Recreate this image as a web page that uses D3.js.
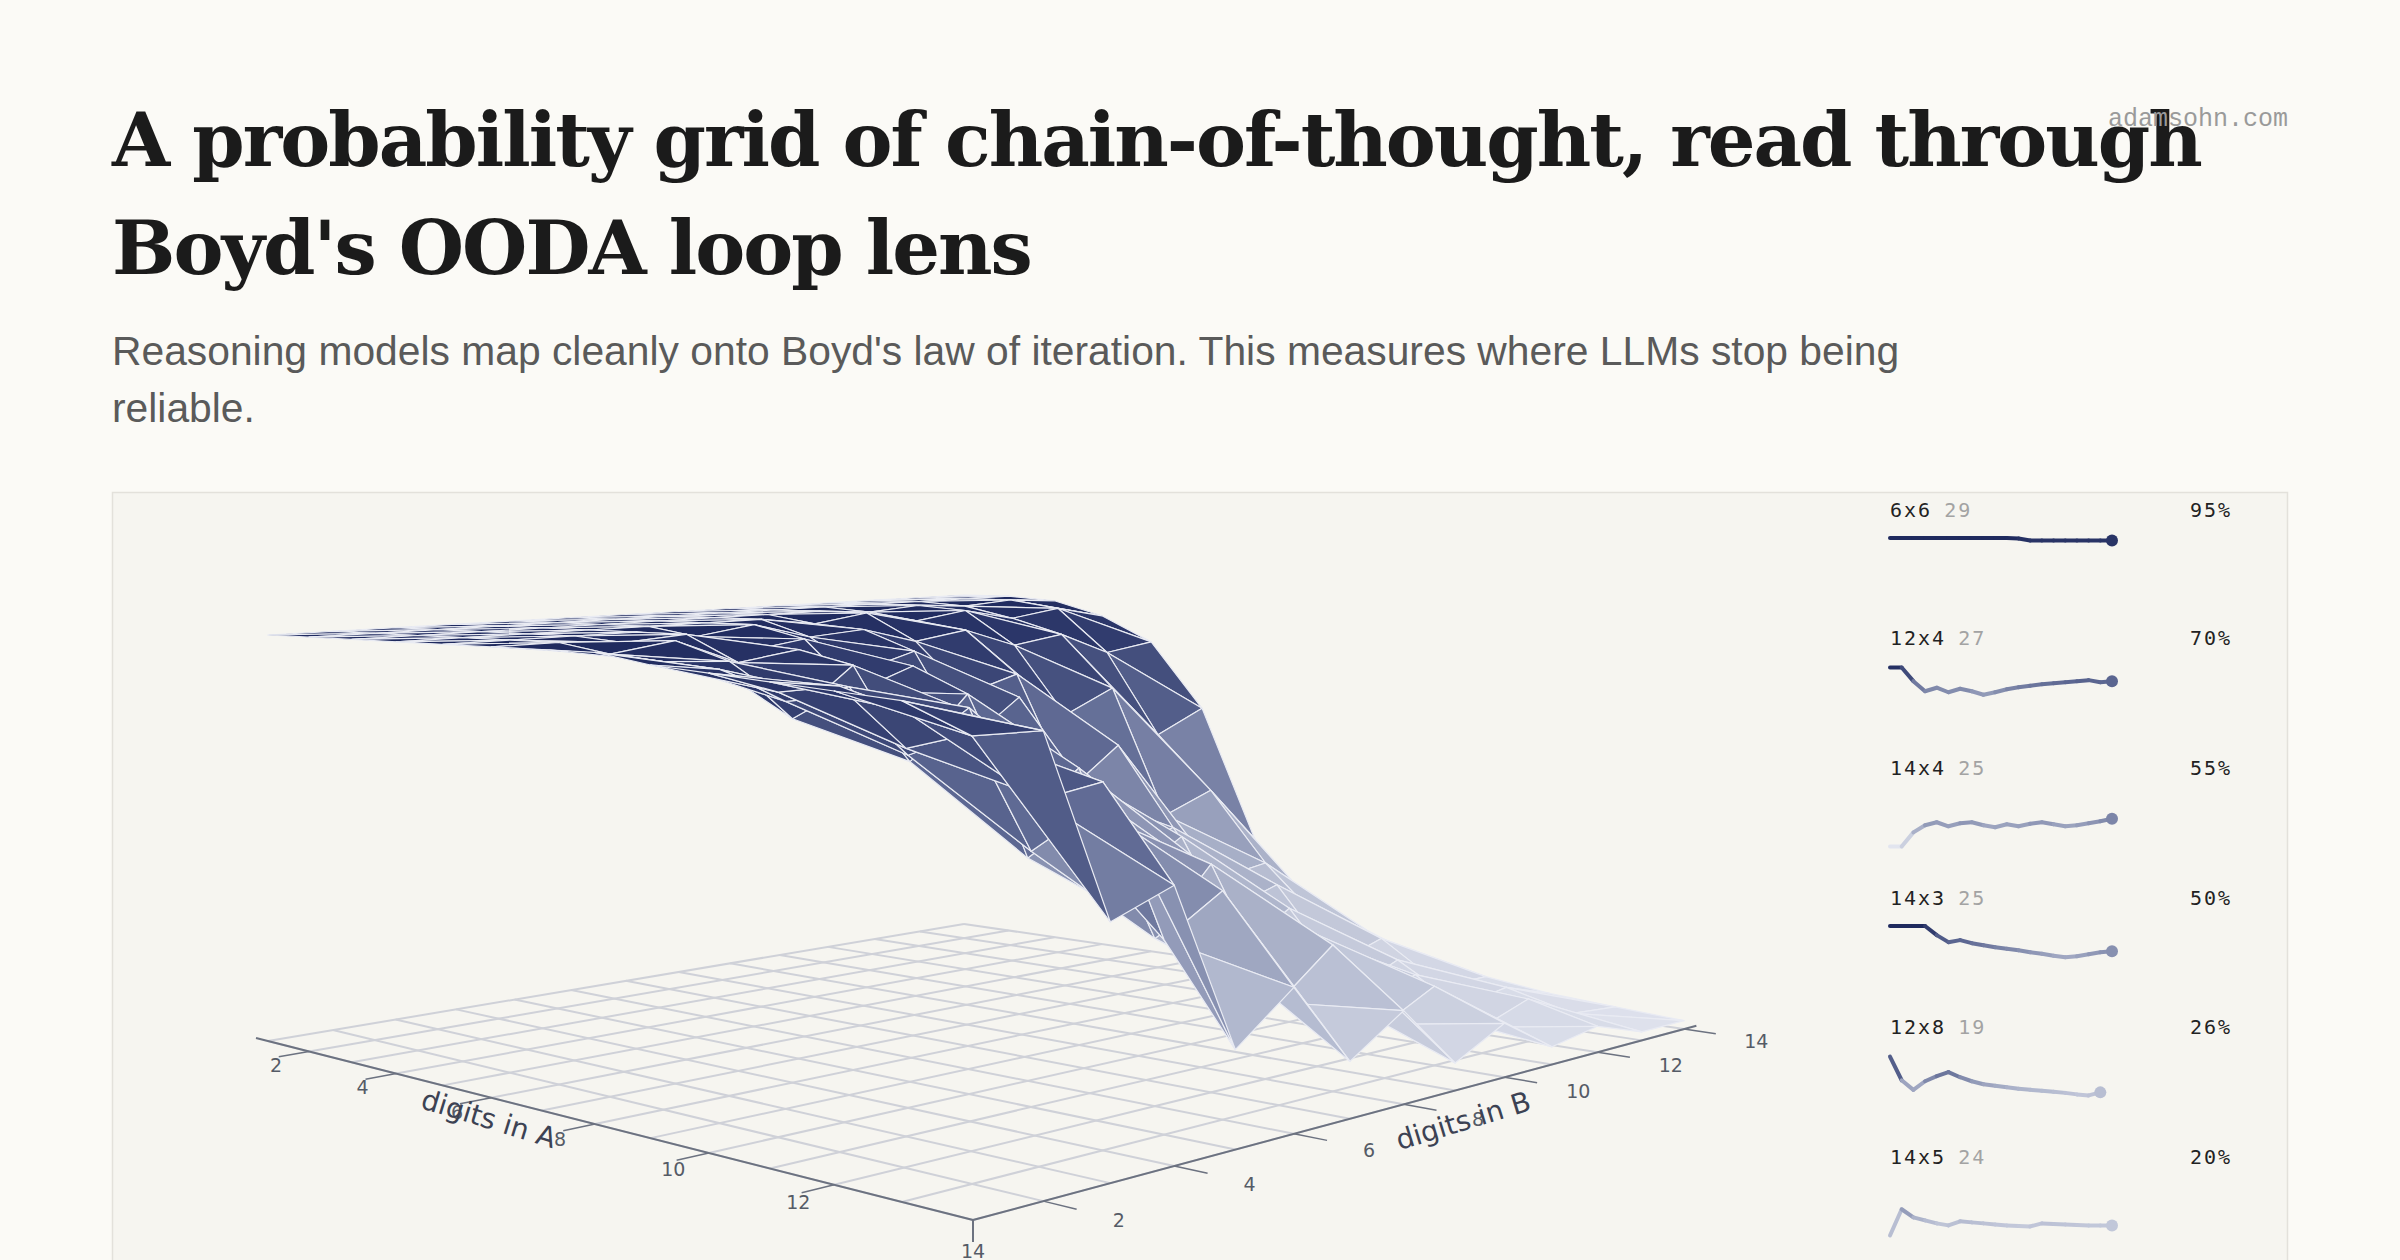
<!DOCTYPE html>
<html><head><meta charset="utf-8">
<script src="https://cdn.jsdelivr.net/npm/d3@7"></script>
<style>
html,body{margin:0;padding:0;background:#fbfaf6;}
svg{display:block;}
</style></head>
<body>
<svg id="c" width="2400" height="1260"></svg>
<script>
// ---------- data ----------
const digitsA = [1,2,3,4,5,6,7,8,9,10,11,12,13,14];
const digitsB = [1,2,3,4,5,6,7,8,9,10,11,12,13,14];
const tickValues = [2,4,6,8,10,12,14];
// accuracy grid: rows = digits in A, cols = digits in B
const accuracy = [
 [1,1,1,1,1,1,1,1,1,1,1,1,1,1],
 [1,1,1,1,1,1,1,1,1,1,1,1,1,1],
 [1,1,1,1,1,1,1,1,1,.99,1,.99,1,.99],
 [1,1,1,1,1,1,1,.98,1,.97,.99,.96,.98,.95],
 [1,1,1,1,.98,1,.96,.97,.93,.95,.9,.92,.86,.88],
 [1,1,.99,1,.95,.97,.88,.92,.8,.84,.72,.78,.64,.7],
 [1,.98,1,.94,.96,.85,.9,.7,.8,.55,.65,.45,.5,.35],
 [1,.97,.96,.82,.93,.7,.84,.55,.62,.4,.45,.3,.32,.2],
 [.98,.96,.88,.9,.72,.82,.56,.66,.38,.46,.26,.3,.18,.14],
 [.97,.92,.9,.76,.85,.5,.64,.3,.45,.2,.28,.12,.16,.08],
 [.96,.94,.8,.82,.55,.62,.35,.45,.18,.26,.1,.15,.06,.06],
 [.95,.9,.84,.7,.66,.36,.5,.26,.3,.12,.16,.06,.08,.04],
 [.94,.86,.72,.74,.4,.48,.22,.32,.12,.18,.06,.1,.04,.03],
 [.92,.88,.5,.55,.2,.3,.12,.2,.06,.12,.04,.06,.02,.02]
];
const sparkNames = ["6x6","12x4","14x4","14x3","12x8","14x5"];
const sparkCounts = [29,27,25,25,19,24];
const sparkFinal = ["95%","70%","55%","50%","26%","20%"];
const spark6x6 = [1,1,1,1,1,1,1,1,1,1,1,.99,.95,.95,.95,.95,.95,.95,.95,.95];
const spark12x4 = [.97,.97,.7,.5,.57,.48,.55,.5,.43,.48,.54,.58,.61,.64,.66,.68,.70,.72,.68,.70];
const spark14x4 = [0,0,.28,.42,.48,.40,.46,.48,.42,.38,.44,.40,.45,.48,.44,.40,.42,.46,.50,.55];
const spark14x3 = [1,1,1,1,.82,.68,.72,.66,.62,.58,.55,.52,.48,.45,.41,.38,.40,.44,.48,.50];
const spark12x8 = [.97,.5,.31,.48,.58,.66,.56,.48,.42,.39,.36,.33,.31,.29,.27,.25,.22,.20,.26];
const spark14x5 = [0,.52,.36,.30,.24,.20,.28,.26,.24,.22,.20,.19,.18,.24,.23,.22,.21,.20,.20,.20];
const sparkSeries = [spark6x6,spark12x4,spark14x4,spark14x3,spark12x8,spark14x5];

// ---------- page ----------
const svg = d3.select("#c");
svg.append("rect").attr("width",2400).attr("height",1260).attr("fill","#fbfaf6");
const title = svg.append("text").attr("font-family","DejaVu Serif, serif").attr("font-weight","bold")
  .attr("font-size",75).attr("fill","#1b1b1b").attr("letter-spacing",-2);
title.append("tspan").attr("x",112).attr("y",166).text("A probability grid of chain-of-thought, read through");
title.append("tspan").attr("x",112).attr("y",274).text("Boyd's OODA loop lens");
svg.append("text").attr("x",2288).attr("y",126).attr("text-anchor","end")
  .attr("font-family","Liberation Mono, DejaVu Sans Mono, monospace").attr("font-size",25)
  .attr("fill","#9a9a9a").text("adamsohn.com");
const sub = svg.append("text").attr("font-family","Liberation Sans, Arial, sans-serif")
  .attr("font-size",40.8).attr("fill","#5a5a5a");
sub.append("tspan").attr("x",112).attr("y",365).text("Reasoning models map cleanly onto Boyd's law of iteration. This measures where LLMs stop being");
sub.append("tspan").attr("x",112).attr("y",422).text("reliable.");

svg.append("rect").attr("x",112.5).attr("y",492.5).attr("width",2175).attr("height",800)
  .attr("fill","#f6f5f0").attr("stroke","#e3e1db").attr("stroke-width",1.5);

// ---------- projection (floor homography + vertical) ----------
const uS = d3.scaleLinear().domain([1,14]).range([0,1]);
const vS = d3.scaleLinear().domain([1,14]).range([0,1]);
const zS = d3.scaleLinear().domain([0,1]).range([0,406]);
const P0=[268,1041], P1=[973,1220], P2=[1684,1029], P3=[964,924];
const dx1=P1[0]-P2[0], dx2=P3[0]-P2[0], dx3=P0[0]-P1[0]+P2[0]-P3[0];
const dy1=P1[1]-P2[1], dy2=P3[1]-P2[1], dy3=P0[1]-P1[1]+P2[1]-P3[1];
const den = dx1*dy2-dx2*dy1;
const g=(dx3*dy2-dx2*dy3)/den, h=(dx1*dy3-dx3*dy1)/den;
const a=P1[0]-P0[0]+g*P1[0], b=P3[0]-P0[0]+h*P3[0], c=P0[0];
const d=P1[1]-P0[1]+g*P1[1], e=P3[1]-P0[1]+h*P3[1], f=P0[1];
function proj(A,B,z){
  const u=uS(A), v=vS(B), w=g*u+h*v+1;
  return [(a*u+b*v+c)/w, (d*u+e*v+f-zS(z||0))/w, w];
}
const color = d3.scaleLinear().domain([0,0.35,0.7,1]).range(["#e2e5ef","#a9b0c8","#5a6590","#1f2a5e"]);

// floor grid
const gridG = svg.append("g");
digitsA.forEach(A=>{
  const p=proj(A,1), q=proj(A,14);
  gridG.append("line").attr("x1",p[0]).attr("y1",p[1]).attr("x2",q[0]).attr("y2",q[1])
    .attr("stroke","#cfd1d8").attr("stroke-width",2);
});
digitsB.forEach(B=>{
  const p=proj(1,B), q=proj(14,B);
  gridG.append("line").attr("x1",p[0]).attr("y1",p[1]).attr("x2",q[0]).attr("y2",q[1])
    .attr("stroke","#cfd1d8").attr("stroke-width",2);
});
// axes
const axG = svg.append("g").attr("font-family","DejaVu Sans, sans-serif").attr("font-size",19).attr("fill","#555b66");
let p=proj(0.7,1), q=proj(14,1);
axG.append("line").attr("x1",p[0]).attr("y1",p[1]).attr("x2",q[0]).attr("y2",q[1]).attr("stroke","#6c7280").attr("stroke-width",2);
p=proj(14,1); q=proj(14,14.3);
axG.append("line").attr("x1",p[0]).attr("y1",p[1]).attr("x2",q[0]).attr("y2",q[1]).attr("stroke","#6c7280").attr("stroke-width",2);
p=proj(14,1); axG.append("line").attr("x1",p[0]).attr("y1",p[1]).attr("x2",p[0]).attr("y2",p[1]+22).attr("stroke","#6c7280").attr("stroke-width",2);
tickValues.forEach(t=>{
  if(t<14){
    const s=proj(t,1), s2=proj(t,0.55);
    axG.append("line").attr("x1",s[0]).attr("y1",s[1]).attr("x2",s2[0]).attr("y2",s2[1]).attr("stroke","#6c7280").attr("stroke-width",1.5);
    const l=proj(t,0.45);
    axG.append("text").attr("x",l[0]+4).attr("y",l[1]+14).attr("text-anchor","middle").text(t);
  } else {
    const l=proj(14,1);
    axG.append("text").attr("x",l[0]).attr("y",l[1]+38).attr("text-anchor","middle").text(t);
  }
  const r=proj(14,t), r2=proj(14.45,t);
  axG.append("line").attr("x1",r[0]).attr("y1",r[1]).attr("x2",r2[0]).attr("y2",r2[1]).attr("stroke","#6c7280").attr("stroke-width",1.5);
  const m=proj(14.9,t);
  axG.append("text").attr("x",m[0]+8).attr("y",m[1]+10).attr("text-anchor","middle").text(t);
});
axG.append("text").attr("transform","translate(486,1128) rotate(17)").attr("text-anchor","middle")
  .attr("font-size",28).attr("fill","#3c4253").text("digits in A");
axG.append("text").attr("transform","translate(1466,1130) rotate(-17)").attr("text-anchor","middle")
  .attr("font-size",28).attr("fill","#3c4253").text("digits in B");

// surface
const tris=[];
for(let i=0;i<digitsA.length-1;i++) for(let j=0;j<digitsB.length-1;j++){
  const pts=[[i,j],[i+1,j],[i+1,j+1],[i,j+1]].map(([ii,jj])=>({A:digitsA[ii],B:digitsB[jj],z:accuracy[ii][jj]}));
  [[pts[0],pts[1],pts[2]],[pts[0],pts[2],pts[3]]].forEach(t=>{
    const pr=t.map(o=>proj(o.A,o.B,o.z));
    const depth=d3.mean(t,o=>proj(o.A,o.B,0)[2]);
    tris.push({pr,depth,z:d3.mean(t,o=>o.z)});
  });
}
tris.sort((x,y)=>y.depth-x.depth);
svg.append("g").selectAll("path").data(tris).join("path")
  .attr("d",t=>"M"+t.pr.map(q=>q[0].toFixed(1)+","+q[1].toFixed(1)).join("L")+"Z")
  .attr("fill",t=>color(t.z)).attr("stroke","#e9ebf3").attr("stroke-width",1.2).attr("stroke-linejoin","round");

// sparklines
const sx = d3.scaleLinear().domain([0,19]).range([1890,2112]);
const labelY=[510,638,768,898,1027,1157];
sparkSeries.forEach((s,k)=>{
  const g0=svg.append("g");
  const y=d3.scaleLinear().domain([0,1]).range([labelY[k]+28+50.5,labelY[k]+28]);
  const t=g0.append("text").attr("x",1890).attr("y",labelY[k]+7).attr("font-family","DejaVu Sans Mono, monospace")
    .attr("font-size",20).attr("letter-spacing",2);
  t.append("tspan").attr("fill","#222").text(sparkNames[k]);
  t.append("tspan").attr("fill","#a3a3a3").attr("dx",12).text(sparkCounts[k]);
  g0.append("text").attr("x",2190).attr("y",labelY[k]+7).attr("font-family","DejaVu Sans Mono, monospace")
    .attr("font-size",20).attr("letter-spacing",2).attr("fill","#222").text(sparkFinal[k]);
  for(let i=1;i<s.length;i++){
    g0.append("line").attr("x1",sx(i-1)).attr("y1",y(s[i-1])).attr("x2",sx(i)).attr("y2",y(s[i]))
      .attr("stroke",color((s[i-1]+s[i])/2)).attr("stroke-width",4).attr("stroke-linecap","round");
  }
  g0.append("circle").attr("cx",sx(s.length-1)).attr("cy",y(s[s.length-1])).attr("r",6)
    .attr("fill",color(s[s.length-1]));
});
</script>
</body></html>
